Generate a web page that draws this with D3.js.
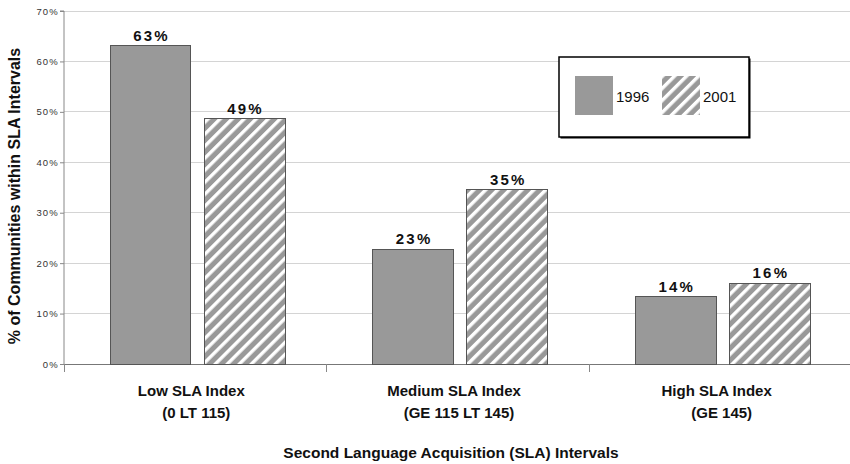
<!DOCTYPE html>
<html><head><meta charset="utf-8">
<script src="https://cdn.jsdelivr.net/npm/d3@7"></script>
<style>body{margin:0;background:#fff}svg{display:block}</style>
</head><body>
<svg id="c" width="850" height="464"></svg>
<script>
const categories = ["Low SLA Index|(0 LT 115)", "Medium SLA Index|(GE 115 LT 145)", "High SLA Index|(GE 145)"];
const series = ["1996", "2001"];
const values1996 = [63.1, 22.8, 13.3];
const values2001 = [48.6, 34.6, 16.0];
const labels1996 = ["63%", "23%", "14%"];
const labels2001 = ["49%", "35%", "16%"];
const yTicks = [0, 10, 20, 30, 40, 50, 60, 70];

const svg = d3.select("#c");
const m = {l: 64, r: 852, t: 11, b: 364};
const FONT = "Liberation Sans, Arial, sans-serif";
const x = d3.scaleBand().domain(categories).range([m.l, m.r]).paddingInner(0).paddingOuter(0);
const xs = d3.scaleBand().domain(series).range([46, 221]).paddingInner(0.14).paddingOuter(0);
const y = d3.scaleLinear().domain([0, 70]).range([m.b, m.t]);

const defs = svg.append("defs");
const pat = defs.append("pattern").attr("id", "hatch").attr("patternUnits", "userSpaceOnUse")
  .attr("width", 8.5).attr("height", 8.5).attr("patternTransform", "rotate(45)");
pat.append("rect").attr("width", 8.5).attr("height", 8.5).attr("fill", "#999");
pat.append("rect").attr("x", 0).attr("width", 3.4).attr("height", 8.5).attr("fill", "#fff");

// grid
svg.append("g").selectAll("line").data(yTicks).join("line")
  .attr("x1", m.l).attr("x2", 850).attr("y1", d => y(d)).attr("y2", d => y(d))
  .attr("stroke", d => d === 0 ? "#777" : "#d4d4d4").attr("stroke-width", 1).attr("shape-rendering", "crispEdges");

// y axis
const ya = svg.append("g").attr("transform", `translate(${m.l},0)`)
  .call(d3.axisLeft(y).tickValues(yTicks).tickSize(4).tickFormat(d => d + "%"));
ya.select(".domain").attr("stroke", "#888").attr("d", `M-4,${m.t}H0V${m.b}`);
ya.selectAll(".tick line").attr("stroke", "#888");
ya.selectAll(".tick text").attr("font-family", FONT).attr("font-size", 9.5)
  .attr("letter-spacing", "1.2px").attr("fill", "#333").attr("x", -5);

// category separator ticks
svg.append("g").selectAll("line").data(categories.concat(["end"])).join("line")
  .attr("x1", (d, i) => i < 3 ? x(d) : m.r).attr("x2", (d, i) => i < 3 ? x(d) : m.r)
  .attr("y1", m.b).attr("y2", m.b + 8).attr("stroke", "#888").attr("shape-rendering", "crispEdges");

// bars
const g = svg.append("g");
categories.forEach((c, i) => {
  const vals = [values1996[i], values2001[i]];
  const labs = [labels1996[i], labels2001[i]];
  series.forEach((s, j) => {
    const bx = x(c) + xs(s);
    g.append("rect").attr("x", bx).attr("y", y(vals[j])).attr("width", xs.bandwidth())
      .attr("height", y(0) - y(vals[j]))
      .attr("fill", j === 0 ? "#999" : "url(#hatch)").attr("stroke", "#555").attr("stroke-width", 1)
      .attr("shape-rendering", "crispEdges");
    g.append("text").attr("x", bx + xs.bandwidth() / 2 + 1).attr("y", y(vals[j]) - 5)
      .attr("text-anchor", "middle").attr("font-family", FONT)
      .attr("font-size", 15).attr("font-weight", "bold").attr("letter-spacing", "2.2px").attr("fill", "#111")
      .text(labs[j]);
  });
  const parts = c.split("|");
  parts.forEach((p, k) => {
    svg.append("text").attr("x", x(c) + x.bandwidth() / 2 + (k === 1 ? 1 : -4)).attr("y", 396 + k * 22)
      .attr("text-anchor", "middle").attr("font-family", FONT)
      .attr("font-size", 15).attr("font-weight", "bold").attr("fill", "#111").text(p);
  });
});

// axis titles
svg.append("text").attr("x", 451).attr("y", 458).attr("text-anchor", "middle")
  .attr("font-family", FONT).attr("font-size", 15.5)
  .attr("font-weight", "bold").attr("fill", "#111").text("Second Language Acquisition (SLA) Intervals");
svg.append("text").attr("transform", "translate(20,196) rotate(-90)").attr("text-anchor", "middle")
  .attr("font-family", FONT).attr("font-size", 16)
  .attr("font-weight", "bold").attr("fill", "#111").text("% of Communities within SLA Intervals");

// legend
const lg = svg.append("g").attr("transform", "translate(559,57)");
lg.append("rect").attr("x", 1.5).attr("y", 1.5).attr("width", 190).attr("height", 80).attr("fill", "#000");
lg.append("rect").attr("x", 0).attr("y", 0).attr("width", 190).attr("height", 80)
  .attr("fill", "#fff").attr("stroke", "#000").attr("stroke-width", 1.5);
series.forEach((s, j) => {
  const ox = 16 + j * 87;
  lg.append("rect").attr("x", ox).attr("y", 19).attr("width", 38).attr("height", 39)
    .attr("fill", j === 0 ? "#999" : "url(#hatch)");
  lg.append("text").attr("x", ox + 41).attr("y", 45).attr("font-family", FONT)
    .attr("font-size", 15).attr("fill", "#111").text(s);
});
</script>
</body></html>
